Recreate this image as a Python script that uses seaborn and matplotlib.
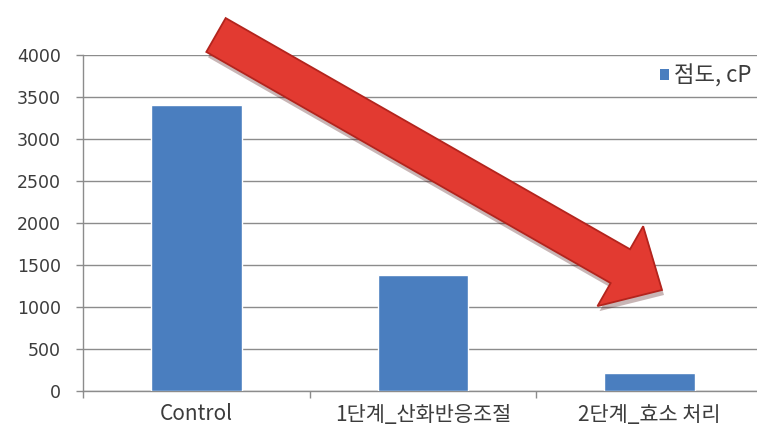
import matplotlib
matplotlib.use("Agg")
import matplotlib.pyplot as plt
import seaborn as sns
import pandas as pd
from matplotlib.patches import FancyArrow, Patch

# Viscosity by treatment stage
stages = ["Control", "1단계_산화반응조절", "2단계_효소 처리"]
viscosity = [3400, 1380, 215]
series_name = "점도, cP"
y_ticks = [0, 500, 1000, 1500, 2000, 2500, 3000, 3500, 4000]

sns.set_theme(style="white")
plt.rcParams["font.family"] = ["Noto Sans CJK KR", "DejaVu Sans"]

W, H = 757, 438
fig = plt.figure(figsize=(W / 100, H / 100), dpi=100)
fig.patch.set_facecolor("white")

ax = fig.add_axes([83 / W, 1 - 391 / H, 680 / W, 336 / H])
df = pd.DataFrame({"stage": stages, "value": viscosity})
bar_color = "#4a7ebf"
sns.barplot(data=df, x="stage", y="value", color=bar_color, width=0.4,
            saturation=1, ax=ax, zorder=3)

ax.set_xlim(-0.5, 2.5)
ax.set_ylim(0, 4000)
ax.set_yticks(y_ticks)
ax.set_xlabel("")
ax.set_ylabel("")

grid_c = "#8c8c8c"
ax.yaxis.grid(True, color=grid_c, linewidth=1.0, zorder=0)
ax.set_axisbelow(True)
for side in ["top", "right"]:
    ax.spines[side].set_visible(False)
for side in ["left", "bottom"]:
    ax.spines[side].set_color(grid_c)
    ax.spines[side].set_linewidth(1.0)

text_c = "#3c3c3c"
ax.tick_params(axis="y", which="major", length=5, width=1, color=grid_c,
               pad=11, labelcolor=text_c, left=True)
for lbl in ax.get_yticklabels():
    lbl.set_fontfamily(["DejaVu Sans"])
    lbl.set_fontsize(12.5)
ax.tick_params(axis="x", which="major", length=0, pad=9,
               labelsize=15, labelcolor=text_c)
ax.set_xticks([-0.5, 0.5, 1.5, 2.5], minor=True)
ax.tick_params(axis="x", which="minor", length=5, width=1, color=grid_c,
               bottom=True)

# legend sitting at the right edge, partly cut off by the figure border
handle = Patch(facecolor=bar_color, edgecolor="none")
fig.legend([handle], [series_name], loc="center left",
           bbox_to_anchor=(660 / W, 1 - 76 / H), bbox_transform=fig.transFigure,
           frameon=False, fontsize=16, handlelength=0.4, handleheight=0.4,
           handletextpad=0.25, labelcolor=text_c, borderaxespad=0, borderpad=0)

# large red trend arrow over the chart
ov = fig.add_axes([0, 0, 1, 1], zorder=10)
ov.set_xlim(0, W)
ov.set_ylim(H, 0)
ov.axis("off")
ov.patch.set_alpha(0)

x0, y0 = 216, 35
x1, y1 = 662, 290
shadow = FancyArrow(x0 + 2, y0 + 5, x1 - x0, y1 - y0, width=40, head_width=92,
                    head_length=48, length_includes_head=True,
                    facecolor="#4a0c0c", edgecolor="none", alpha=0.3)
ov.add_patch(shadow)
arrow = FancyArrow(x0, y0, x1 - x0, y1 - y0, width=39, head_width=92,
                   head_length=48, length_includes_head=True,
                   facecolor="#e23a31", edgecolor="#b3241d", linewidth=1.3)
ov.add_patch(arrow)

fig.savefig("out.png", dpi=100)
